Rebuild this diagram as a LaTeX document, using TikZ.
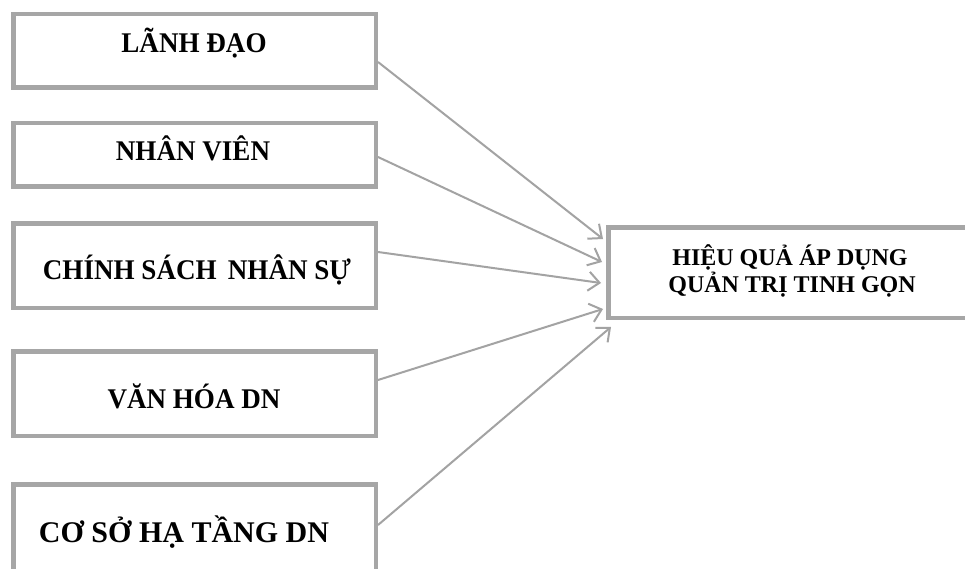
\documentclass[tikz,border=0pt]{standalone}
\usepackage{fontspec}
\setmainfont{Liberation Serif}
\usetikzlibrary{arrows.meta}
\definecolor{boxgray}{HTML}{A6A6A6}
\definecolor{arrgray}{HTML}{A3A3A3}
\newcommand{\narrowtxt}[1]{\scalebox{0.95}[1.0]{#1}}
\tikzset{
  box/.style={draw=boxgray, line width=4.5pt, rectangle, inner sep=0pt, fill=white},
  lbl/.style={font=\bfseries\fontsize{28.5}{34}\selectfont, anchor=base, inner sep=0pt},
  lblbig/.style={font=\bfseries\fontsize{30}{36}\selectfont, anchor=base, inner sep=0pt},
  tlbl/.style={font=\bfseries\fontsize{24}{28}\selectfont, anchor=base, inner sep=0pt},
  conn/.style={draw=arrgray, line width=2pt, -{Straight Barb[length=11pt,width=19pt,line width=2pt]}}
}
\begin{document}
\begin{tikzpicture}[x=1pt,y=-1pt]
\useasboundingbox (0,0) rectangle (965,569);
\clip (0,0) rectangle (965,569);
\fill[white] (0,0) rectangle (965,569);
% boxes
\node[box, minimum width=362.5pt, minimum height=73.5pt] (b1) at (194.5,51) {};
\node[box, minimum width=362.5pt, minimum height=63.5pt] (b2) at (194.5,155) {};
\node[box, minimum width=362.5pt, minimum height=84.5pt] (b3) at (194.5,265.5) {};
\node[box, minimum width=362.5pt, minimum height=84.5pt] (b4) at (194.5,393.5) {};
\node[box, minimum width=362.5pt, minimum height=103.5pt] (b5) at (194.5,536) {};
\node[box, minimum width=389.5pt, minimum height=90.5pt] (t) at (803,272.5) {};
% labels
\node[lbl] (l1) at (194,53) {\narrowtxt{LÃNH ĐẠO}};
\node[lbl] (l2) at (193,161) {\narrowtxt{NHÂN VIÊN}};
\node[lbl] (l3) at (197,279) {\narrowtxt{CHÍNH SÁCH\, NHÂN SỰ}};
\node[lbl] (l4) at (194,408) {\narrowtxt{VĂN HÓA DN}};
\node[lblbig] (l5) at (184,542) {CƠ SỞ HẠ TẦNG DN};
\node[tlbl] (h1) at (790,265) {HIỆU QUẢ ÁP DỤNG};
\node[tlbl] (h2) at (792,292) {QUẢN TRỊ TINH GỌN};
% connector ends
\coordinate (s1) at ([yshift=-11pt]b1.east);
\coordinate (s2) at ([yshift=-2pt]b2.east);
\coordinate (s3) at ([yshift=13.5pt]b3.east);
\coordinate (s4) at ([yshift=13.5pt]b4.east);
\coordinate (s5) at ([yshift=11pt]b5.east);
\coordinate (e1) at ([xshift=-3pt,yshift=33.5pt]t.west);
\coordinate (e2) at ([xshift=-4pt,yshift=10.5pt]t.west);
\coordinate (e3) at ([xshift=-5pt,yshift=-10.5pt]t.west);
\coordinate (e4) at ([xshift=-3pt,yshift=-36.5pt]t.west);
\coordinate (e5) at ([xshift=5pt,yshift=-7pt]t.south west);
\draw[conn] (s1) -- (e1);
\draw[conn] (s2) -- (e2);
\draw[conn] (s3) -- (e3);
\draw[conn] (s4) -- (e4);
\draw[conn] (s5) -- (e5);
\end{tikzpicture}
\end{document}
